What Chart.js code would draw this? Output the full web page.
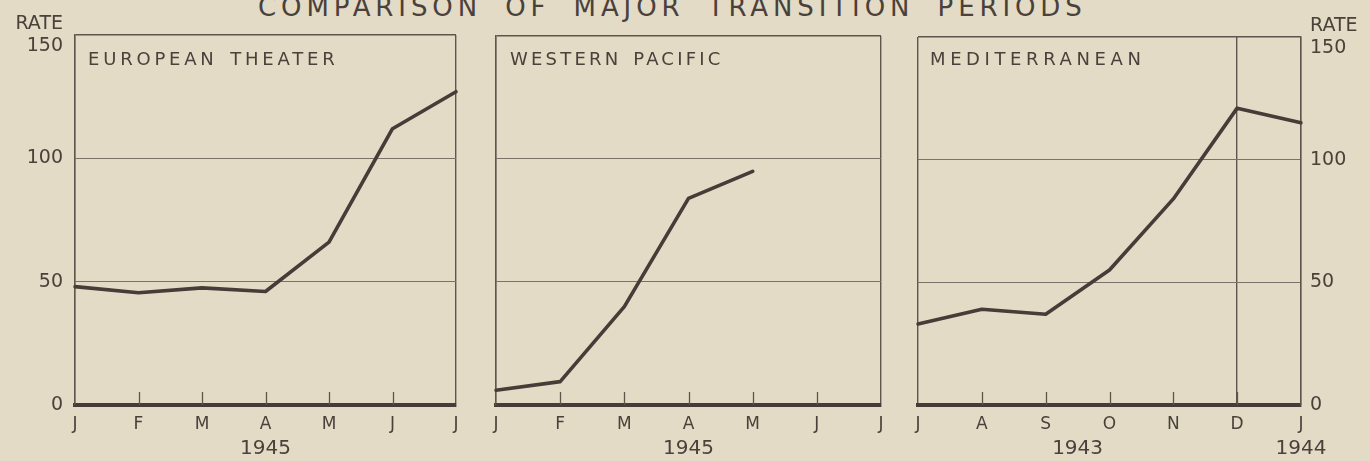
<!DOCTYPE html>
<html>
<head>
<meta charset="utf-8">
<script src="https://cdn.jsdelivr.net/npm/chart.js@4.4.1/dist/chart.umd.min.js"></script>
<style>
html,body{margin:0;padding:0;background:#e3dbc6;width:1370px;height:461px;overflow:hidden;}
canvas.c{position:absolute;left:0;top:0;}
.t{position:absolute;font-family:"DejaVu Sans",sans-serif;color:#4a413b;white-space:nowrap;}
#mainTitle{left:258px;top:-6px;font-size:26px;line-height:26px;letter-spacing:4.9px;word-spacing:10px;}
.pt{font-size:18px;line-height:18px;letter-spacing:3.8px;word-spacing:3px;top:50px;}
</style>
</head>
<body>
<div class="t" id="mainTitle">COMPARISON OF MAJOR TRANSITION PERIODS</div>
<canvas id="c1" class="c" width="1370" height="461"></canvas>
<canvas id="c2" class="c" width="1370" height="461"></canvas>
<canvas id="c3" class="c" width="1370" height="461"></canvas>
<div class="t pt" style="left:88px;">EUROPEAN THEATER</div>
<div class="t pt" style="left:510px;letter-spacing:3.2px;">WESTERN PACIFIC</div>
<div class="t pt" style="left:930px;letter-spacing:4.6px;">MEDITERRANEAN</div>
<script>
// ---- data ----
const monthsEuropean = ['J','F','M','A','M','J','J'];
const monthsPacific  = ['J','F','M','A','M','J','J'];
const monthsMed      = ['J','A','S','O','N','D','J'];
const rateEuropean = [48, 45.5, 47.5, 46, 66, 112, 127];
const ratePacific  = [6, 9.5, 40, 84, 95, null, null];
const rateMed      = [33, 39, 37, 55, 84, 121, 115];
const rateTicks = [0, 50, 100, 150];
const yearsEuropean = [{value: 3, label: '1945'}];
const yearsPacific  = [{value: 3, label: '1945'}];
const yearsMed      = [{value: 2.5, label: '1943'}, {value: 6, label: '1944'}];

// ---- styles ----
const FONT = '"DejaVu Sans", sans-serif';
const textColor = '#4a413b';
const frameColor = '#5e554d';
const gridColor = '#7a7168';
const lineColor = '#463c38';

const innerTicks = {
  id: 'innerTicks',
  beforeDatasetsDraw(chart, args, opts) {
    const x = chart.scales.x;
    const {bottom} = chart.chartArea;
    const ctx = chart.ctx;
    ctx.save();
    ctx.strokeStyle = frameColor;
    ctx.lineWidth = 1.3;
    for (let i = 1; i < x.ticks.length - 1; i++) {
      const px = Math.round(x.getPixelForTick(i)) + 0.5;
      ctx.beginPath();
      ctx.moveTo(px, bottom);
      ctx.lineTo(px, bottom - opts.length);
      ctx.stroke();
    }
    ctx.restore();
  }
};

function makeChart(id, cfg) {
  const {months, rates, years, area, yPos, showY, vlines} = cfg;
  const yWidth = showY ? (yPos === 'left' ? area.left : 1370 - area.right) : 0;
  const monthH = 30, yearH = 26;
  return new Chart(document.getElementById(id), {
    type: 'line',
    data: {
      labels: months,
      datasets: [{
        data: rates,
        borderColor: lineColor,
        borderWidth: 3.6,
        pointRadius: 0,
        tension: 0,
        fill: false,
        spanGaps: false,
        borderJoinStyle: 'round',
        borderCapStyle: 'round'
      }]
    },
    options: {
      responsive: false,
      animation: false,
      events: [],
      layout: {
        padding: {
          left: (yPos === 'left' && showY) ? 0 : area.left,
          right: (yPos === 'right' && showY) ? 0 : 1370 - area.right,
          top: area.top,
          bottom: Math.max(0, 461 - area.bottom - monthH - yearH)
        }
      },
      plugins: {
        legend: {display: false},
        tooltip: {enabled: false},
        title: {display: false},
        innerTicks: {length: 13}
      },
      scales: {
        x: {
          type: 'category',
          position: 'bottom',
          weight: 0,
          offset: false,
          grid: {
            offset: false,
            drawTicks: false,
            lineWidth: 1.4,
            color: c => (c.index === 0 || c.index === months.length - 1 || vlines.includes(c.index)) ? frameColor : 'rgba(0,0,0,0)'
          },
          border: {display: true, color: lineColor, width: 4},
          ticks: {
            color: textColor,
            font: {family: FONT, size: 17},
            padding: 9,
            maxRotation: 0,
            minRotation: 0,
            autoSkip: false
          },
          afterFit: s => { s.height = monthH; }
        },
        year: {
          type: 'linear',
          position: 'bottom',
          weight: 1,
          min: 0,
          max: months.length - 1,
          grid: {display: false, drawTicks: false},
          border: {display: false},
          afterBuildTicks: axis => { axis.ticks = years.map(y => ({value: y.value})); },
          ticks: {
            color: textColor,
            font: {family: FONT, size: 20},
            padding: 2,
            maxRotation: 0,
            minRotation: 0,
            autoSkip: false,
            callback: v => { const f = years.find(y => y.value === v); return f ? f.label : ''; }
          },
          afterFit: s => { s.height = yearH; }
        },
        y: {
          position: yPos,
          min: 0,
          max: 150,
          afterBuildTicks: axis => { axis.ticks = rateTicks.map(v => ({value: v})); },
          grid: {
            drawTicks: false,
            lineWidth: c => c.tick && c.tick.value === 150 ? 1.4 : 1.1,
            color: c => (c.tick && c.tick.value === 0) ? 'rgba(0,0,0,0)' : (c.tick && c.tick.value === 150 ? frameColor : gridColor)
          },
          border: {display: true, color: frameColor, width: 1.4},
          ticks: {
            display: showY,
            color: textColor,
            font: {family: FONT, size: 19},
            lineHeight: 1.2,
            padding: yPos === 'left' ? 12 : 9,
            autoSkip: false,
            callback: v => v === 150 ? ['RATE', '150'] : String(v)
          },
          afterFit: s => { s.width = yWidth; }
        }
      }
    },
    plugins: [innerTicks]
  });
}

makeChart('c1', {
  months: monthsEuropean, rates: rateEuropean, years: yearsEuropean,
  area: {left: 75, right: 456, top: 35, bottom: 405},
  yPos: 'left', showY: true, vlines: []
});
makeChart('c2', {
  months: monthsPacific, rates: ratePacific, years: yearsPacific,
  area: {left: 496, right: 881, top: 36, bottom: 407},
  yPos: 'left', showY: false, vlines: []
});
makeChart('c3', {
  months: monthsMed, rates: rateMed, years: yearsMed,
  area: {left: 918, right: 1301, top: 37, bottom: 408},
  yPos: 'right', showY: true, vlines: [5]
});
</script>
</body>
</html>
